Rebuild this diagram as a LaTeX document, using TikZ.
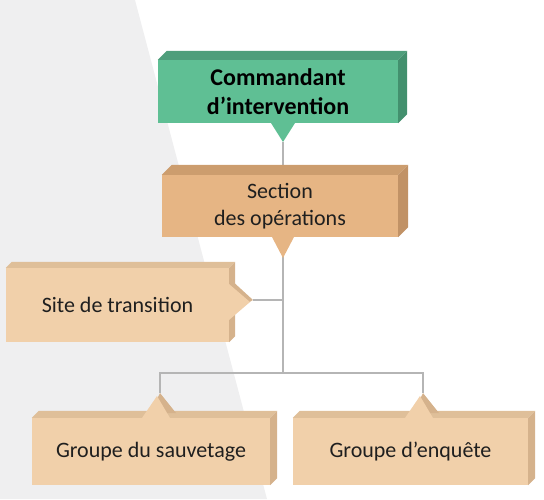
\documentclass[tikz,border=0pt]{standalone}
\usepackage{fontspec}
\setmainfont{Carlito}
\usepackage{tikz}
\usetikzlibrary{calc}
\definecolor{fond}{HTML}{EFEFF0}
\definecolor{trait}{HTML}{B5B5B5}
\definecolor{vert}{HTML}{5FBF94}
\definecolor{vertdessus}{HTML}{4E9E7B}
\definecolor{vertcote}{HTML}{43906E}
\definecolor{orange}{HTML}{E6B584}
\definecolor{orangedessus}{HTML}{CC9D6E}
\definecolor{orangecote}{HTML}{C19266}
\definecolor{clair}{HTML}{F1D0AA}
\definecolor{clairdessus}{HTML}{DFBF99}
\definecolor{claircote}{HTML}{D5B28C}
\tikzset{
  bloc/.style={rectangle, inner sep=0pt, align=center, text=black!88,
    font=\fontsize{22}{27}\selectfont},
  lien/.style={draw=trait, line width=2pt}
}

\begin{document}
\begin{tikzpicture}[x=1pt, y=-1pt]
  \useasboundingbox (0,0) rectangle (544,499);
  \fill[fond] (0,0) -- (135,0) -- (267,499) -- (0,499) -- cycle;

  % pointes et embranchement
  \coordinate (cmdtip) at (283,142);
  \coordinate (sectip) at (283,258);
  \coordinate (sitetip) at (253,300);
  \coordinate (split) at (283,373);
  \coordinate (sauvtip) at (160,393);
  \coordinate (enqtip) at (423,393);

  % liens
  \draw[lien] (cmdtip) -- (sectip);
  \draw[lien] (sectip) -- (split);
  \draw[lien] (sitetip) -- (sectip |- sitetip);
  \draw[lien] (sauvtip) |- (split) -| (enqtip);

  % blocs
  \node[bloc, fill=vert, minimum width=240, minimum height=63,
    font=\fontsize{24}{29}\selectfont\bfseries, text=black] (cmd) at (278,91.5)
    {Commandant\\d’intervention};
  \node[bloc, fill=orange, minimum width=236, minimum height=62] (sec) at (280,206)
    {Section\\des opérations};
  \node[bloc, fill=clair, minimum width=223, minimum height=74] (site) at (117.5,305)
    {Site de transition};
  \node[bloc, fill=clair, minimum width=238, minimum height=67] (sauv) at (151,451.5)
    {Groupe du sauvetage};
  \node[bloc, fill=clair, minimum width=235, minimum height=67] (enq) at (410.5,451.5)
    {Groupe d’enquête};

  % reliefs
  \foreach \n/\d/\dessus/\cote in {cmd/9/vertdessus/vertcote, sec/10/orangedessus/orangecote,
      site/6/clairdessus/claircote, sauv/7/clairdessus/claircote, enq/7/clairdessus/claircote} {
    \fill[\dessus] (\n.north west) -- ++(\d,-\d) -- ($(\n.north east)+(\d,-\d)$)
      -- (\n.north east) -- cycle;
    \fill[\cote] (\n.north east) -- ++(\d,-\d) -- ($(\n.south east)+(\d,-\d)$)
      -- (\n.south east) -- cycle;
  }

  % pointes
  \fill[vert] ($(cmdtip)+(-12,-19)$) -- (cmdtip) -- ($(cmdtip)+(12,-19)$) -- cycle;
  \fill[orange] ($(sectip)+(-11,-21)$) -- (sectip) -- ($(sectip)+(11,-21)$) -- cycle;
  \fill[claircote] ($(sitetip)+(-24,-22)$) -- (sitetip) -- ($(sitetip)+(-24,14)$) -- cycle;
  \fill[clair] ($(sitetip)+(-24,-16)$) -- ($(sitetip)+(-3,2)$) -- ($(sitetip)+(-24,20)$) -- cycle;
  \foreach \t in {sauvtip, enqtip} {
    \fill[claircote] ($(\t)+(-10,20)$) -- (\t) -- ($(\t)+(16,20)$) -- cycle;
    \fill[clair] ($(\t)+(-18,25)$) -- ($(\t)+(-3,3)$) -- ($(\t)+(10,25)$) -- cycle;
  }
\end{tikzpicture}
\end{document}
